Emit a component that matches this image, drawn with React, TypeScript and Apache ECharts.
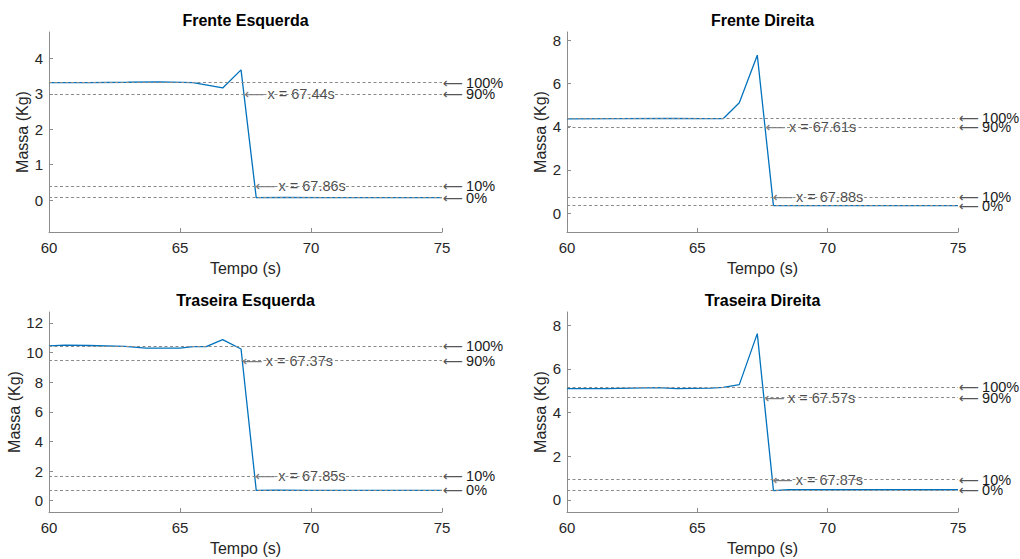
import React, { useEffect, useRef } from "react";
import * as echarts from "echarts";

// Panel titles
const panelTitles = ["Frente Esquerda", "Frente Direita", "Traseira Esquerda", "Traseira Direita"];

// Mass signals (time in s, mass in kg)
const timeFL = [60, 61.5, 63, 64.2, 65.5, 66.63, 67.33, 67.91, 69, 70.5, 72, 73.5, 75];
const massFL = [3.32, 3.32, 3.33, 3.34, 3.32, 3.17, 3.68, 0.07, 0.075, 0.07, 0.07, 0.07, 0.07];

const timeFR = [60, 62, 64, 65.2, 66.0, 66.61, 67.3, 67.92, 69, 71, 73, 75];
const massFR = [4.36, 4.37, 4.38, 4.37, 4.37, 5.1, 7.3, 0.35, 0.35, 0.35, 0.35, 0.35];

const timeRL = [60, 60.6, 61.5, 62.9, 63.7, 65.0, 65.5, 66.0, 66.63, 67.33, 67.91, 68.7, 70, 72, 75];
const massRL = [10.45, 10.5, 10.48, 10.42, 10.3, 10.3, 10.4, 10.4, 10.88, 10.24, 0.7, 0.72, 0.7, 0.7, 0.7];

const timeRR = [60, 61.5, 63.5, 64.2, 65.5, 66.0, 66.61, 67.3, 67.92, 68.5, 70, 72, 75];
const massRR = [5.1, 5.1, 5.14, 5.1, 5.12, 5.15, 5.28, 7.62, 0.42, 0.46, 0.46, 0.46, 0.46];

// Reference levels (100%, 90%, 10%, 0%)
const levelLabels = ["100%", "90%", "10%", "0%"];
const levelsFL = [3.32, 2.995, 0.395, 0.07];
const levelsFR = [4.39, 3.99, 0.754, 0.35];
const levelsRL = [10.42, 9.45, 1.67, 0.7];
const levelsRR = [5.15, 4.68, 0.92, 0.45];

// Crossing instants of the 90% and 10% levels
const crossFL = [[67.44, 2.995], [67.86, 0.395]];
const crossFR = [[67.61, 3.99], [67.88, 0.754]];
const crossRL = [[67.37, 9.45], [67.85, 1.67]];
const crossRR = [[67.57, 4.68], [67.87, 0.92]];

// Axis extents and tick values
const yRangeFL = [-0.9, 4.75];
const yRangeFR = [-0.87, 8.37];
const yRangeRL = [-0.76, 12.74];
const yRangeRR = [-0.56, 8.61];
const yTicksFL = [0, 1, 2, 3, 4];
const yTicksFR = [0, 2, 4, 6, 8];
const yTicksRL = [0, 2, 4, 6, 8, 10, 12];
const yTicksRR = [0, 2, 4, 6, 8];

const FONT = "'Liberation Sans', Arial, Helvetica, sans-serif";
const AXIS_COLOR = "#8c8c8c";
const TEXT_COLOR = "#262626";
const LINE_COLOR = "#0072BD";

const panels = [
  { title: panelTitles[0], t: timeFL, m: massFL, levels: levelsFL, cross: crossFL, yRange: yRangeFL, yTicks: yTicksFL },
  { title: panelTitles[1], t: timeFR, m: massFR, levels: levelsFR, cross: crossFR, yRange: yRangeFR, yTicks: yTicksFR },
  { title: panelTitles[2], t: timeRL, m: massRL, levels: levelsRL, cross: crossRL, yRange: yRangeRL, yTicks: yTicksRL },
  { title: panelTitles[3], t: timeRR, m: massRR, levels: levelsRR, cross: crossRR, yRange: yRangeRR, yTicks: yTicksRR },
];

// Plot-area boxes in pixels
const boxes = [
  { left: 49, top: 32, width: 393, height: 200, nameGap: 14 },
  { left: 567, top: 32, width: 391, height: 200, nameGap: 14 },
  { left: 49, top: 312, width: 393, height: 200, nameGap: 22 },
  { left: 567, top: 312, width: 391, height: 200, nameGap: 14 },
];

const arrowRich = {
  a: { color: "#555555", fontSize: 14, fontFamily: "'DejaVu Sans', sans-serif", padding: [0, 3, 0, 0] },
  b: { color: "#1a1a1a", fontSize: 14.5, fontFamily: FONT },
};

function buildOption() {
  const grid: any[] = [];
  const xAxis: any[] = [];
  const yAxis: any[] = [];
  const series: any[] = [];
  const title: any[] = [];

  panels.forEach((p, i) => {
    const b = boxes[i];
    grid.push({ left: b.left, top: b.top, width: b.width, height: b.height, containLabel: false });
    title.push({
      text: p.title,
      left: b.left + b.width / 2 - 5,
      top: b.top - 25,
      textAlign: "center",
      textStyle: { fontFamily: FONT, fontSize: 16, fontWeight: "bold", color: "#000" },
    });
    xAxis.push({
      type: "value",
      gridIndex: i,
      min: 60,
      max: 75,
      interval: 5,
      name: "Tempo (s)",
      nameLocation: "middle",
      nameGap: 28,
      nameTextStyle: { fontFamily: FONT, fontSize: 16, color: TEXT_COLOR, verticalAlign: "top" },
      axisLine: { show: true, onZero: false, lineStyle: { color: AXIS_COLOR, width: 1 } },
      axisTick: { show: true, inside: true, length: 4, lineStyle: { color: AXIS_COLOR } },
      axisLabel: { fontFamily: FONT, fontSize: 15, color: TEXT_COLOR, margin: 8 },
      splitLine: { show: false },
    });
    yAxis.push({
      type: "value",
      gridIndex: i,
      min: p.yRange[0],
      max: p.yRange[1],
      name: "Massa (Kg)",
      nameLocation: "middle",
      nameGap: b.nameGap,
      nameTextStyle: { fontFamily: FONT, fontSize: 16, color: TEXT_COLOR },
      axisLine: { show: true, onZero: false, lineStyle: { color: AXIS_COLOR, width: 1 } },
      axisTick: { show: true, inside: true, length: 4, lineStyle: { color: AXIS_COLOR }, customValues: p.yTicks },
      axisLabel: { fontFamily: FONT, fontSize: 15, color: TEXT_COLOR, margin: 6, customValues: p.yTicks },
      splitLine: { show: false },
    });

    // Dashed reference levels with right-hand labels
    series.push({
      type: "line",
      xAxisIndex: i,
      yAxisIndex: i,
      data: [],
      silent: true,
      z: 1,
      markLine: {
        silent: true,
        symbol: ["none", "none"],
        lineStyle: { color: "#8a8a8a", type: [3, 2.5], width: 1 },
        emphasis: { disabled: true },
        data: p.levels.map((v, k) => ({
          yAxis: v,
          label: {
            show: true,
            position: "end",
            distance: 1,
            formatter: `{a|⟵}{b|${levelLabels[k]}}`,
            rich: arrowRich,
          },
        })),
      },
    });

    // Measured mass signal
    series.push({
      type: "line",
      xAxisIndex: i,
      yAxisIndex: i,
      data: p.t.map((t, k) => [t, p.m[k]]),
      showSymbol: false,
      symbol: "none",
      lineStyle: { color: LINE_COLOR, width: 1.3 },
      z: 3,
    });

    // Crossing-time annotations
    series.push({
      type: "scatter",
      xAxisIndex: i,
      yAxisIndex: i,
      data: p.cross,
      symbolSize: 1,
      itemStyle: { color: "rgba(0,0,0,0)" },
      z: 4,
      silent: true,
      label: {
        show: true,
        position: "right",
        distance: 0,
        formatter: (params: any) => `{a|⟵}{b|x = ${params.value[0].toFixed(2)}s}`,
        rich: arrowRich,
      },
    });
  });

  return { animation: false, backgroundColor: "#ffffff", title, grid, xAxis, yAxis, series };
}

export default function App() {
  const ref = useRef<HTMLDivElement>(null);
  useEffect(() => {
    if (!ref.current) return;
    const chart = echarts.init(ref.current, null, { renderer: "svg" });
    chart.setOption(buildOption());
    return () => chart.dispose();
  }, []);
  return (
    <div
      ref={ref}
      style={{ position: "absolute", left: 0, top: 0, width: 1020, height: 559, background: "#fff" }}
    />
  );
}
